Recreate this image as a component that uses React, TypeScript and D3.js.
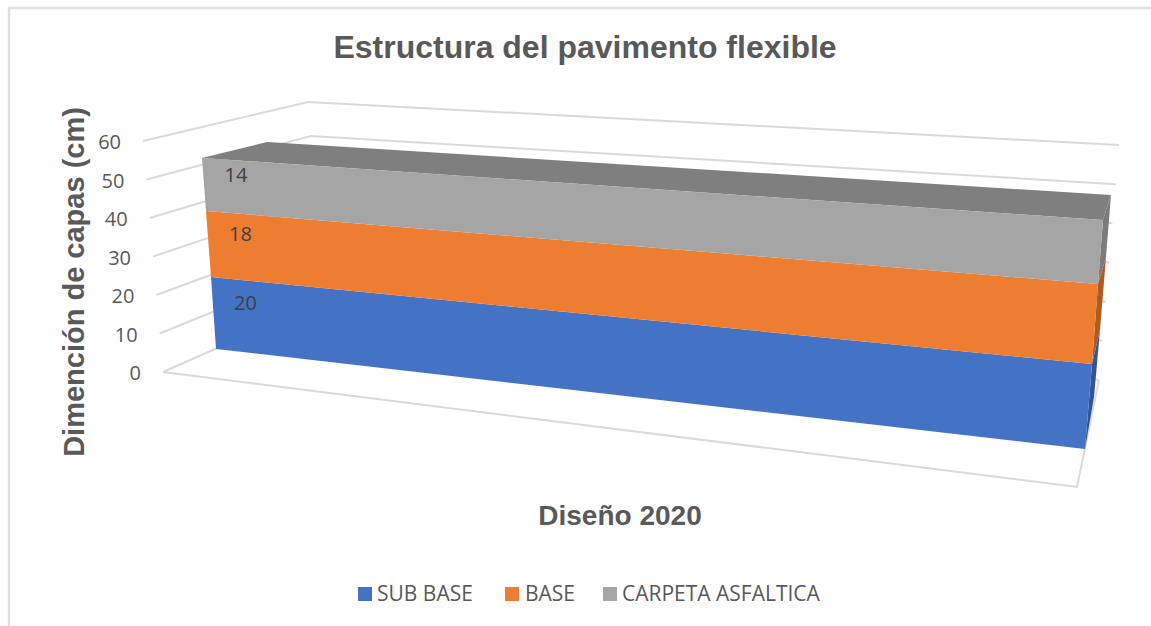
import React from "react";
import * as d3 from "d3";

// Stacked layers of the pavement structure
const seriesNames = ["SUB BASE", "BASE", "CARPETA ASFALTICA"];
const seriesValues = [20, 18, 14];
const frontColors = ["#4472c4", "#ed7d31", "#a5a5a5"];
const sideColors = ["#2f5597", "#ae5a21", "#7b7b7b"];
const topColor = "#7f7f7f";
const axisTicks = [0, 10, 20, 30, 40, 50, 60];

const W = 1151;
const H = 626;
const FONT = "'Open Sans', sans-serif";
const HEAD = "'Liberation Sans', Arial, sans-serif";

type Edge = (v: number) => [number, number];

// A vertical edge of the 3D box: value maps linearly to screen x and y, piecewise for perspective
const edge = (dom: number[], xs: number[], ys: number[]): Edge => {
  const fx = d3.scaleLinear().domain(dom).range(xs);
  const fy = d3.scaleLinear().domain(dom).range(ys);
  return (v) => [fx(v), fy(v)];
};

// Chart walls, floor corners
const wallFront = edge([0, 60], [163, 143], [372, 141]);
const wallBack = edge([0, 50, 60], [326, 311, 308], [300, 136, 102]);
const wallRight = edge([0, 60], [1099, 1119], [380, 145]);
const floorNear: [number, number] = [1077, 487];

// Bar box edges, indexed by cumulative value
const stackDom = [0, 20, 38, 52];
const barFrontLeft = edge(stackDom, [216, 211, 206, 202], [349, 277, 211, 158]);
const barFrontRight = edge(stackDom, [1085, 1092, 1098, 1103], [449, 364, 284, 220]);
const barBackRight = edge(stackDom, [1094, 1100, 1106, 1111], [397, 330, 257, 195]);
const barBackLeftTop: [number, number] = [267, 142];

const poly = d3.line<[number, number]>().curve(d3.curveLinearClosed);
const path = d3.line<[number, number]>();

export default function App() {
  const cum = d3.cumsum(seriesValues);
  const total = cum[cum.length - 1];
  const layers = seriesValues.map((v, i) => ({
    name: seriesNames[i],
    value: v,
    lo: cum[i] - v,
    hi: cum[i],
    i,
  }));
  const grid = "#d9d9d9";

  // Legend entries positioned from their text starts
  const legendSwatch = [358, 505, 603];
  const legendText = [377, 525, 622];

  return (
    <svg
      width={W}
      height={H}
      viewBox={`0 0 ${W} ${H}`}
      style={{ position: "absolute", left: 0, top: 0, background: "#fff" }}
    >
      <path d={`M9 ${H}V8H${W}`} fill="none" stroke="#e0e0e0" strokeWidth={2.4} />

      <text x={585} y={58} textAnchor="middle" fontFamily={HEAD} fontWeight={700} fontSize={32} fill="#595959">
        Estructura del pavimento flexible
      </text>

      {/* Walls and floor */}
      {axisTicks.map((t) => (
        <path
          key={t}
          d={path([wallFront(t), wallBack(t), wallRight(t)]) as string}
          fill="none"
          stroke={grid}
          strokeWidth={2}
        />
      ))}
      <path
        d={path([wallFront(0), floorNear, wallRight(0)]) as string}
        fill="none"
        stroke={grid}
        strokeWidth={2}
      />

      {axisTicks.map((t) => {
        const [x, y] = wallFront(t);
        return (
          <text key={t} x={x - 22} y={y + 8} textAnchor="end" fontFamily={FONT} fontSize={20} fill="#595959">
            {t}
          </text>
        );
      })}

      {/* Right side of the box */}
      {layers.map((l) => (
        <path
          key={l.name}
          d={poly([barFrontRight(l.lo), barBackRight(l.lo), barBackRight(l.hi), barFrontRight(l.hi)]) as string}
          fill={sideColors[l.i]}
        />
      ))}
      {/* Top of the box */}
      <path
        d={poly([barFrontLeft(total), barBackLeftTop, barBackRight(total), barFrontRight(total)]) as string}
        fill={topColor}
      />
      {/* Front of the box */}
      {layers.map((l) => (
        <path
          key={l.name}
          d={poly([barFrontLeft(l.lo), barFrontRight(l.lo), barFrontRight(l.hi), barFrontLeft(l.hi)]) as string}
          fill={frontColors[l.i]}
        />
      ))}
      {layers.map((l) => {
        const [x, y] = barFrontLeft((l.lo + l.hi) / 2);
        return (
          <text key={l.name} x={x + 32} y={y - 3} textAnchor="middle" fontFamily={FONT} fontSize={20} fill="#404040">
            {l.value}
          </text>
        );
      })}

      <text
        transform="translate(84,282) rotate(-90)"
        textAnchor="middle"
        fontFamily={HEAD}
        fontWeight={700}
        fontSize={29}
        fill="#595959"
      >
        Dimención de capas (cm)
      </text>
      <text x={620} y={525} textAnchor="middle" fontFamily={HEAD} fontWeight={700} fontSize={28} fill="#595959">
        Diseño 2020
      </text>

      {/* Legend */}
      {layers.map((l) => (
        <g key={l.name}>
          <rect x={legendSwatch[l.i]} y={587} width={14} height={14} fill={frontColors[l.i]} />
          <text x={legendText[l.i]} y={601} fontFamily={FONT} fontSize={21} fill="#595959">
            {l.name}
          </text>
        </g>
      ))}
    </svg>
  );
}
